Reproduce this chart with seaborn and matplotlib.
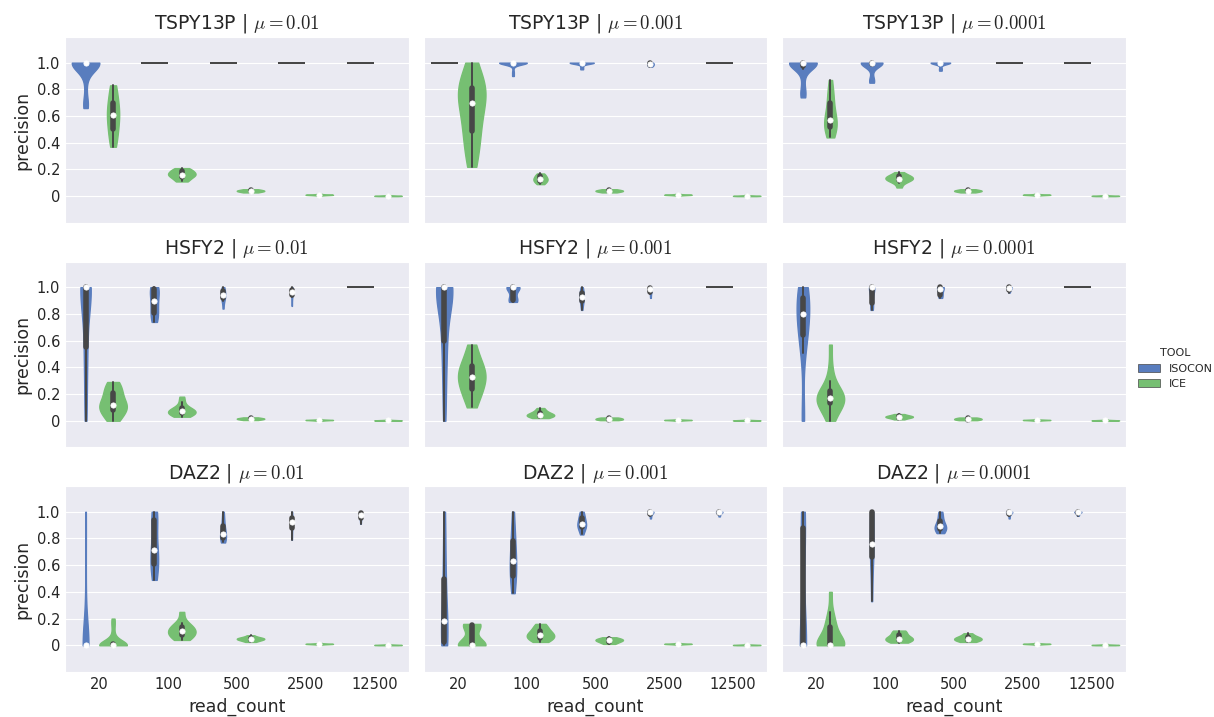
import numpy as np
import pandas as pd
import matplotlib
matplotlib.use("Agg")
import matplotlib.pyplot as plt
from matplotlib.patches import Patch
from matplotlib.collections import PolyCollection
import seaborn as sns

genes = ["TSPY13P", "HSFY2", "DAZ2"]
mus = ["0.01", "0.001", "0.0001"]
read_counts = ["20", "100", "500", "2500", "12500"]
tools = ["ISOCON", "ICE"]
tool_colors = ["#4878CF", "#6ACC65"]

# ---- precision samples, one list per read_count (20, 100, 500, 2500, 12500) ----
TSPY13P_001_ISOCON = [
    [1, 1, 1, 1, 1, 1, 1, 1, 1, 1, 1, 1, 1, 1, 1, 1, 0.93, 0.85, 0.72, 0.68, 0.66],
    [1, 1, 1, 1, 1, 1], [1, 1, 1, 1, 1, 1], [1, 1, 1, 1, 1, 1], [1, 1, 1, 1, 1, 1]]
TSPY13P_001_ICE = [
    [0.37, 0.42, 0.46, 0.5, 0.55, 0.58, 0.61, 0.63, 0.66, 0.7, 0.74, 0.8, 0.83],
    [0.11, 0.12, 0.14, 0.15, 0.16, 0.16, 0.17, 0.18, 0.19, 0.2, 0.21],
    [0.028, 0.034, 0.04, 0.04, 0.046, 0.052],
    [0.003, 0.009, 0.01, 0.01, 0.01, 0.011, 0.011, 0.012, 0.018],
    [0.0, 0.001, 0.002, 0.002, 0.002, 0.003, 0.003, 0.004, 0.012]]
TSPY13P_0001_ISOCON = [
    [1, 1, 1, 1, 1, 1],
    [1, 1, 1, 1, 1, 1, 1, 1, 1, 1, 1, 1, 1, 1, 1, 1, 1, 1, 0.97, 0.93, 0.9],
    [1, 1, 1, 1, 1, 1, 1, 1, 1, 1, 0.97, 0.95],
    [0.97, 0.98, 0.98, 0.99, 0.99, 1, 1],
    [1, 1, 1, 1, 1, 1]]
TSPY13P_0001_ICE = [
    [0.22, 0.3, 0.38, 0.45, 0.5, 0.56, 0.62, 0.68, 0.72, 0.75, 0.78, 0.8, 0.83, 0.87, 0.92, 1.0],
    [0.09, 0.1, 0.11, 0.12, 0.125, 0.13, 0.14, 0.15, 0.16, 0.17],
    [0.028, 0.034, 0.04, 0.04, 0.046, 0.052],
    [0.003, 0.009, 0.01, 0.01, 0.01, 0.011, 0.011, 0.012, 0.018],
    [0.0, 0.001, 0.002, 0.002, 0.002, 0.003, 0.003, 0.004, 0.012]]
TSPY13P_00001_ISOCON = [
    [1, 1, 1, 1, 1, 1, 1, 1, 1, 1, 1, 1, 1, 1, 0.95, 0.88, 0.8, 0.76, 0.74],
    [1, 1, 1, 1, 1, 1, 1, 1, 1, 1, 1, 1, 0.95, 0.88, 0.86, 0.85],
    [1, 1, 1, 1, 1, 1, 1, 1, 1, 1, 0.96, 0.94],
    [1, 1, 1, 1, 1, 1], [1, 1, 1, 1, 1, 1]]
TSPY13P_00001_ICE = [
    [0.44, 0.47, 0.5, 0.52, 0.54, 0.56, 0.57, 0.6, 0.64, 0.7, 0.75, 0.78, 0.87],
    [0.065, 0.1, 0.115, 0.12, 0.13, 0.13, 0.14, 0.145, 0.15, 0.16, 0.18],
    [0.028, 0.034, 0.04, 0.04, 0.046, 0.052],
    [0.003, 0.009, 0.01, 0.01, 0.01, 0.011, 0.011, 0.012, 0.018],
    [0.0, 0.001, 0.002, 0.002, 0.002, 0.003, 0.003, 0.004, 0.012]]

HSFY2_001_ISOCON = [
    [0, 0.1, 0.25, 0.4, 0.5, 0.55, 0.65, 0.75, 0.9, 1, 1, 1, 1, 1, 1, 1, 1, 1, 1, 1, 1],
    [0.74, 0.77, 0.79, 0.82, 0.86, 0.9, 0.93, 0.97, 1, 1, 1],
    [0.84, 0.9, 0.92, 0.93, 0.94, 0.95, 0.97, 0.99, 1.0],
    [0.86, 0.93, 0.95, 0.96, 0.97, 0.98, 0.99, 1.0],
    [1, 1, 1, 1, 1, 1]]
HSFY2_001_ICE = [
    [0, 0.03, 0.06, 0.08, 0.1, 0.11, 0.12, 0.14, 0.17, 0.21, 0.23, 0.26, 0.29],
    [0.03, 0.04, 0.05, 0.06, 0.06, 0.07, 0.07, 0.08, 0.09, 0.1, 0.14, 0.18],
    [0.005, 0.01, 0.015, 0.015, 0.02, 0.025],
    [0.0, 0.004, 0.005, 0.005, 0.005, 0.006, 0.006, 0.007, 0.013],
    [0.0, 0.001, 0.002, 0.002, 0.002, 0.003, 0.003, 0.004, 0.012]]
HSFY2_0001_ISOCON = [
    [0, 0.15, 0.3, 0.45, 0.52, 0.6, 0.7, 0.8, 0.9, 0.95, 1, 1, 1, 1, 1, 1, 1, 1, 1, 1, 1],
    [0.89, 0.9, 0.9, 0.91, 0.95, 1, 1, 1, 1, 1, 1],
    [0.83, 0.87, 0.89, 0.91, 0.92, 0.93, 0.95, 0.96, 0.98, 1.0],
    [0.92, 0.95, 0.97, 0.98, 0.99, 0.99, 1.0, 1.0],
    [1, 1, 1, 1, 1, 1]]
HSFY2_0001_ICE = [
    [0.1, 0.17, 0.21, 0.24, 0.28, 0.31, 0.33, 0.35, 0.38, 0.41, 0.44, 0.5, 0.57],
    [0.02, 0.03, 0.035, 0.04, 0.045, 0.05, 0.06, 0.075, 0.095],
    [0.004, 0.008, 0.012, 0.015, 0.02, 0.024],
    [0.0, 0.004, 0.005, 0.005, 0.005, 0.006, 0.006, 0.007, 0.013],
    [0.0, 0.001, 0.002, 0.002, 0.002, 0.003, 0.003, 0.004, 0.012]]
HSFY2_00001_ISOCON = [
    [0.0, 0.05, 0.51, 0.58, 0.64, 0.68, 0.72, 0.76, 0.8, 0.83, 0.86, 0.89, 0.92, 0.95, 0.97, 0.99, 1.0],
    [0.83, 0.85, 0.87, 0.9, 0.95, 1, 1, 1, 1, 1, 1],
    [0.92, 0.93, 0.95, 0.97, 1, 1, 1, 1],
    [0.96, 0.975, 0.985, 0.99, 1, 1, 1, 1],
    [1, 1, 1, 1, 1, 1]]
HSFY2_00001_ICE = [
    [0.0, 0.04, 0.08, 0.11, 0.13, 0.14, 0.15, 0.16, 0.17, 0.18, 0.19, 0.2, 0.22, 0.25, 0.3, 0.4, 0.57],
    [0.01, 0.02, 0.025, 0.03, 0.03, 0.035, 0.04, 0.05],
    [0.004, 0.008, 0.012, 0.015, 0.02, 0.024],
    [0.0, 0.004, 0.005, 0.005, 0.005, 0.006, 0.006, 0.007, 0.013],
    [0.0, 0.001, 0.002, 0.002, 0.002, 0.003, 0.003, 0.004, 0.012]]

DAZ2_001_ISOCON = [
    [0, 0, 0, 0, 0, 0, 0, 0, 0, 0, 0, 0, 0, 0, 0.2, 0.5, 0.8, 1.0],
    [0.49, 0.52, 0.57, 0.6, 0.63, 0.67, 0.7, 0.72, 0.78, 0.9, 0.95, 0.97, 0.99, 1.0],
    [0.77, 0.79, 0.8, 0.81, 0.82, 0.83, 0.85, 0.88, 0.91, 0.95, 1.0],
    [0.79, 0.84, 0.87, 0.9, 0.92, 0.93, 0.94, 0.96, 0.97, 1.0],
    [0.91, 0.94, 0.96, 0.97, 0.98, 0.99, 1.0, 1.0]]
DAZ2_001_ICE = [
    [0, 0, 0, 0, 0, 0, 0, 0, 0, 0, 0, 0, 0.03, 0.08, 0.15, 0.2],
    [0.04, 0.06, 0.07, 0.08, 0.1, 0.11, 0.12, 0.13, 0.15, 0.17, 0.25],
    [0.025, 0.035, 0.04, 0.045, 0.05, 0.05, 0.055, 0.06, 0.075],
    [0.003, 0.009, 0.01, 0.01, 0.01, 0.011, 0.011, 0.012, 0.018],
    [0.0, 0.001, 0.002, 0.002, 0.002, 0.003, 0.003, 0.004, 0.012]]
DAZ2_0001_ISOCON = [
    [0, 0, 0, 0, 0.05, 0.1, 0.15, 0.18, 0.25, 0.35, 0.45, 0.55, 0.7, 0.85, 1.0],
    [0.39, 0.45, 0.49, 0.52, 0.57, 0.61, 0.63, 0.66, 0.72, 0.78, 0.82, 0.9, 1.0],
    [0.83, 0.86, 0.88, 0.89, 0.9, 0.91, 0.92, 0.94, 0.96, 0.98, 1.0],
    [0.95, 0.97, 0.98, 0.99, 1, 1, 1, 1, 1, 1],
    [0.965, 0.98, 0.99, 1, 1, 1, 1, 1]]
DAZ2_0001_ICE = [
    [0, 0, 0, 0, 0, 0, 0, 0.05, 0.12, 0.15, 0.16, 0.16, 0.16],
    [0.025, 0.04, 0.05, 0.06, 0.07, 0.08, 0.09, 0.1, 0.12, 0.14, 0.16],
    [0.01, 0.02, 0.03, 0.035, 0.04, 0.045, 0.05, 0.06],
    [0.003, 0.009, 0.01, 0.01, 0.01, 0.011, 0.011, 0.012, 0.018],
    [0.0, 0.001, 0.002, 0.002, 0.002, 0.003, 0.003, 0.004, 0.012]]
DAZ2_00001_ISOCON = [
    [0, 0, 0, 0, 0, 0, 0, 0, 0, 0.3, 0.6, 0.8, 0.88, 0.9, 0.92, 0.95, 1.0],
    [0.33, 0.45, 0.6, 0.66, 0.7, 0.74, 0.76, 0.8, 0.88, 1, 1, 1, 1],
    [0.84, 0.86, 0.87, 0.88, 0.89, 0.9, 0.93, 0.97, 1.0],
    [0.95, 0.97, 0.985, 0.99, 1, 1, 1, 1, 1, 1],
    [0.97, 0.98, 0.99, 1, 1, 1, 1, 1]]
DAZ2_00001_ICE = [
    [0, 0, 0, 0, 0, 0, 0, 0, 0, 0.03, 0.06, 0.1, 0.14, 0.15, 0.2, 0.25, 0.4],
    [0.02, 0.03, 0.04, 0.05, 0.05, 0.06, 0.08, 0.1, 0.11],
    [0.025, 0.035, 0.04, 0.05, 0.05, 0.06, 0.07, 0.09],
    [0.003, 0.009, 0.01, 0.01, 0.01, 0.011, 0.011, 0.012, 0.018],
    [0.0, 0.001, 0.002, 0.002, 0.002, 0.003, 0.003, 0.004, 0.012]]

series = {
    ("TSPY13P", "0.01"): (TSPY13P_001_ISOCON, TSPY13P_001_ICE),
    ("TSPY13P", "0.001"): (TSPY13P_0001_ISOCON, TSPY13P_0001_ICE),
    ("TSPY13P", "0.0001"): (TSPY13P_00001_ISOCON, TSPY13P_00001_ICE),
    ("HSFY2", "0.01"): (HSFY2_001_ISOCON, HSFY2_001_ICE),
    ("HSFY2", "0.001"): (HSFY2_0001_ISOCON, HSFY2_0001_ICE),
    ("HSFY2", "0.0001"): (HSFY2_00001_ISOCON, HSFY2_00001_ICE),
    ("DAZ2", "0.01"): (DAZ2_001_ISOCON, DAZ2_001_ICE),
    ("DAZ2", "0.001"): (DAZ2_0001_ISOCON, DAZ2_0001_ICE),
    ("DAZ2", "0.0001"): (DAZ2_00001_ISOCON, DAZ2_00001_ICE),
}

records = []
for (gene, mu), per_tool in series.items():
    for tool, lists in zip(tools, per_tool):
        for rc, vals in zip(read_counts, lists):
            for v in vals:
                records.append((gene, mu, tool, rc, v))
df = pd.DataFrame(records, columns=["gene", "mu", "TOOL", "read_count", "precision"])

sns.set_style("darkgrid")
plt.rcParams["mathtext.fontset"] = "cm"
plt.rcParams["font.family"] = ["DejaVu Sans"]

fig, axes = plt.subplots(3, 3, figsize=(12.14, 7.17), dpi=100, sharex=True, sharey=True)
fig.subplots_adjust(left=0.0535, right=0.9275, top=0.948, bottom=0.0628,
                    wspace=0.0436, hspace=0.21)

line_gray = "#474747"
for i, gene in enumerate(genes):
    for j, mu in enumerate(mus):
        ax = axes[i, j]
        panel = df[(df.gene == gene) & (df.mu == mu)]
        spread = panel.groupby(["read_count", "TOOL"])["precision"].transform(
            lambda s: s.max() - s.min())
        varying = panel[spread > 0]
        constant = panel[spread == 0]
        for rc in read_counts:
            sub = varying[varying.read_count == rc]
            if sub.empty:
                continue
            sns.violinplot(data=sub, x="read_count", y="precision", hue="TOOL",
                           order=read_counts, hue_order=tools, palette=tool_colors,
                           dodge=True, cut=0, inner="box", density_norm="area",
                           common_norm=True, width=0.8, legend=False,
                           linecolor=line_gray, linewidth=0.25,
                           inner_kws=dict(box_width=4.0, whis_width=1.4,
                                          marker="o", markersize=3.8,
                                          markeredgewidth=0.5),
                           ax=ax)
        # violin bodies: outline in their own fill colour (no dark contour)
        for coll in ax.collections:
            if isinstance(coll, PolyCollection):
                coll.set_edgecolor(coll.get_facecolor())
                coll.set_linewidth(1.0)
        if not constant.empty:
            sns.stripplot(data=constant, x="read_count", y="precision", hue="TOOL",
                          order=read_counts, hue_order=tools,
                          palette=[line_gray, line_gray], dodge=True, jitter=False,
                          marker="_", size=19.5, linewidth=1.4, legend=False, ax=ax)
        ax.set_title(f"{gene} | $\\mu = {mu}$", fontsize=13.5)
        ax.set_xlim(-0.5, 4.5)
        ax.set_ylim(-0.2, 1.19)
        ax.set_yticks([0, 0.2, 0.4, 0.6, 0.8, 1.0])
        ax.set_yticklabels(["0", "0.2", "0.4", "0.6", "0.8", "1.0"])
        ax.tick_params(labelsize=10.5, length=0)
        ax.xaxis.grid(False)
        ax.set_xlabel("read_count" if i == 2 else "", fontsize=12.5)
        ax.set_ylabel("precision" if j == 0 else "", fontsize=12.5)

handles = [Patch(facecolor=sns.desaturate(c, 0.75), edgecolor=line_gray,
                 linewidth=0.5, label=t) for t, c in zip(tools, tool_colors)]
fig.legend(handles=handles, title="TOOL", loc="center left",
           bbox_to_anchor=(0.929, 0.486), frameon=False, fontsize=8,
           title_fontsize=8, handlelength=2.0)

fig.savefig("out.png", dpi=100)
